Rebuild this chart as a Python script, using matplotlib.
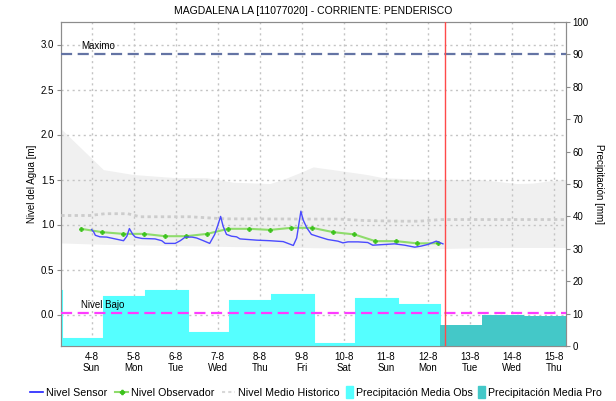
import matplotlib
matplotlib.use("Agg")
import matplotlib.pyplot as plt
import matplotlib.patches as mpatches
from matplotlib.lines import Line2D
from matplotlib.legend_handler import HandlerPatch
import matplotlib.transforms as mtransforms

plt.rcParams['font.family'] = ['Liberation Sans', 'DejaVu Sans']

# ---------------- data ----------------
title = "MAGDALENA LA [11077020] - CORRIENTE: PENDERISCO"
day_labels = ["4-8", "5-8", "6-8", "7-8", "8-8", "9-8", "10-8", "11-8", "12-8", "13-8", "14-8", "15-8"]
weekday_labels = ["Sun", "Mon", "Tue", "Wed", "Thu", "Fri", "Sat", "Sun", "Mon", "Tue", "Wed", "Thu"]

# time in days since 4-8 00:00
sensor_t = [0.00, 0.05, 0.09, 0.20, 0.36, 0.56, 0.76, 0.84, 0.90, 0.98, 1.04, 1.20, 1.51, 1.67,
            1.75, 1.99, 2.11, 2.23, 2.39, 2.50, 2.66, 2.81, 2.93, 3.01, 3.07, 3.13, 3.21, 3.33,
            3.45, 3.53, 3.93, 4.24, 4.56, 4.80, 4.88, 4.93, 4.98, 5.03, 5.12, 5.23, 5.43, 5.62,
            5.86, 5.98, 6.10, 6.34, 6.57, 6.69, 6.97, 7.21, 7.45, 7.69, 7.84, 8.00, 8.20, 8.36]
sensor_v = [0.944, 0.918, 0.880, 0.863, 0.860, 0.840, 0.820, 0.870, 0.955, 0.890, 0.860, 0.845,
            0.840, 0.820, 0.790, 0.790, 0.820, 0.860, 0.860, 0.850, 0.820, 0.790, 0.890, 1.000,
            1.090, 0.980, 0.890, 0.870, 0.863, 0.840, 0.826, 0.820, 0.810, 0.767, 0.850, 1.000,
            1.148, 1.055, 0.963, 0.890, 0.860, 0.833, 0.815, 0.796, 0.807, 0.807, 0.800, 0.770,
            0.778, 0.785, 0.770, 0.748, 0.760, 0.778, 0.815, 0.785]

obs_t = [-0.25, 0.25, 0.75, 1.25, 1.75, 2.25, 2.75, 3.25, 3.75, 4.25, 4.75, 5.25,
         5.75, 6.25, 6.75, 7.25, 7.75, 8.25]
obs_v = [0.952, 0.915, 0.896, 0.896, 0.870, 0.870, 0.896, 0.952, 0.952, 0.940, 0.963, 0.963,
         0.915, 0.890, 0.815, 0.815, 0.790, 0.792]

hist_t = [-0.72, -0.04, 0.32, 0.86, 1.15, 2.34, 3.17, 5.43, 5.90, 6.50, 7.34, 7.80, 8.29, 11.28]
hist_v = [1.100, 1.100, 1.120, 1.120, 1.086, 1.086, 1.063, 1.060, 1.060, 1.044, 1.037, 1.037, 1.055, 1.055]

band_t = [-0.72, 0.28, 0.98, 2.02, 2.74, 3.36, 4.24, 4.55, 5.03, 5.27, 5.74, 6.54, 6.93, 7.97,
          9.24, 10.11, 10.50, 10.98, 11.28]
band_hi = [2.06, 1.61, 1.556, 1.52, 1.52, 1.47, 1.455, 1.50, 1.59, 1.64, 1.61, 1.556, 1.52, 1.50,
           1.50, 1.455, 1.46, 1.49, 1.50]
band_lo = [0.795, 0.78, 0.775, 0.765, 0.76, 0.755, 0.75, 0.745, 0.745, 0.742, 0.74, 0.735, 0.733, 0.73,
           0.742, 0.745, 0.745, 0.745, 0.745]

# daily precipitation (mm); each bar ends at 07:00 of the given day index
precip_obs_day = [-1, 0, 1, 2, 3, 4, 5, 6, 7, 8]
precip_obs_mm = [17.0, 2.25, 15.2, 17.1, 4.1, 14.0, 15.7, 0.5, 14.5, 12.6]
precip_pro_day = [9, 10, 11]
precip_pro_mm = [6.4, 9.6, 9.3]

nivel_maximo = 2.90
nivel_bajo = 0.02
now_t = 8 + 10 / 24

# ---------------- style ----------------
X0, X1 = -0.72, 11.28
BAR_END = 7 / 24
C_SENSOR = "#4a4aff"
C_OBS_LINE = "#8fdc6c"
C_OBS_MARK = "#3cc21c"
C_HIST = "#cccccc"
C_BAND = "#f0f0f0"
C_OBS_BAR = "#55ffff"
C_PRO_BAR = "#44c8c8"
C_MAX = "#6474a4"
C_BAJO = "#ff3cff"
C_NOW = "#ff4a4a"
SPINE = "#8c8c8c"
FS = 7
LFS = 7.7

fig = plt.figure(figsize=(6.16, 4.01), dpi=100)
pos = [61.3 / 616, 1 - 346 / 401, (565.7 - 61.3) / 616, (346 - 22) / 401]
ax = fig.add_axes(pos)
ax2 = ax.twinx()
ax3 = fig.add_axes(pos, sharex=ax, sharey=ax)
ax3.patch.set_visible(False)
ax3.axis("off")

# background band + grid on ax
ax.fill_between(band_t, band_lo, band_hi, color=C_BAND, lw=0, zorder=0.5)
ax.set_xlim(X0, X1)
ax.set_ylim(-0.35, 3.25)
ax.set_yticks([0.0, 0.5, 1.0, 1.5, 2.0, 2.5, 3.0])
ax.set_yticklabels([f"{v:.1f}" for v in [0.0, 0.5, 1.0, 1.5, 2.0, 2.5, 3.0]])
ax.set_xticks(range(len(day_labels)))
ax.set_xticklabels([f"{d}\n{w}" for d, w in zip(day_labels, weekday_labels)])
ax.grid(True, color="#c4c4c4", ls=(0, (1.5, 2.5)), lw=1)
ax.tick_params(axis="x", length=0, labelsize=FS, pad=4)
ax.tick_params(axis="y", length=3, labelsize=FS, color=SPINE, pad=2)
ax.set_ylabel("Nivel del Agua [m]", fontsize=FS, labelpad=3)

# precipitation bars on ax2
ax2.bar([d - 1 + BAR_END for d in precip_obs_day], precip_obs_mm, width=1.0, align="edge",
        color=C_OBS_BAR, ec=C_OBS_BAR, lw=1.5)
ax2.bar([d - 1 + BAR_END for d in precip_pro_day], precip_pro_mm, width=1.0, align="edge",
        color=C_PRO_BAR, lw=0)
ax2.set_ylim(0, 100)
ax2.set_yticks(range(0, 101, 10))
ax2.tick_params(axis="y", length=3, labelsize=FS, color=SPINE, pad=2)
ax2.set_ylabel("Precipitación [mm]", fontsize=FS, rotation=-90, labelpad=11)

for a in (ax, ax2):
    for s in a.spines.values():
        s.set_color(SPINE)

# level lines on ax3 (on top)
ax3.plot(hist_t, hist_v, color=C_HIST, lw=2, ls=(0, (1.2, 1.2)))
ax3.axhline(nivel_maximo, color=C_MAX, lw=1.6, ls=(0, (5, 2.5)))
ax3.axhline(nivel_bajo, color=C_BAJO, lw=1.6, ls=(0, (5, 2.5)))
ax3.plot(obs_t, obs_v, color=C_OBS_LINE, lw=1.5, marker="P", ms=3,
         mfc=C_OBS_MARK, mec=C_OBS_MARK, mew=0.5)
ax3.plot(sensor_t, sensor_v, color=C_SENSOR, lw=1)
ax3.axvline(now_t, color=C_NOW, lw=1)
tr = mtransforms.blended_transform_factory(ax3.transAxes, ax3.transData)
ax3.text(0.04, nivel_maximo + 0.03, "Maximo", transform=tr, fontsize=FS, va="bottom")
ax3.text(0.04, nivel_bajo + 0.03, "Nivel Bajo", transform=tr, fontsize=FS, va="bottom")

ax.set_title(title, fontsize=7.5, pad=6)


def tall_patch(legend, orig_handle, xdescent, ydescent, width, height, fontsize):
    return mpatches.Rectangle((-xdescent, -ydescent - 0.3 * height), width, 1.6 * height)


line_handles = [
    Line2D([], [], color="#2020ff", lw=1.2),
    Line2D([], [], color=C_OBS_LINE, lw=1.5, marker="P", ms=3, mfc=C_OBS_MARK, mec=C_OBS_MARK),
    Line2D([], [], color="#d8d8d8", lw=1.5, ls=(0, (1.5, 1.5))),
]
line_labels = ["Nivel Sensor", "Nivel Observador", "Nivel Medio Historico"]
patch_handles = [mpatches.Patch(color=C_OBS_BAR), mpatches.Patch(color=C_PRO_BAR)]
patch_labels = ["Precipitación Media Obs", "Precipitación Media Pro"]

ly = 1 - 393 / 401
leg1 = fig.legend(line_handles, line_labels, loc="center left", bbox_to_anchor=(30 / 616, ly),
                  ncol=3, frameon=False, fontsize=LFS, handlelength=1.22, handletextpad=0.28,
                  columnspacing=0.72, borderpad=0, borderaxespad=0)
leg2 = fig.legend(patch_handles, patch_labels, loc="center left", bbox_to_anchor=(346 / 616, ly),
                  ncol=2, frameon=False, fontsize=LFS, handlelength=0.62, handletextpad=0.28,
                  columnspacing=0.56, borderpad=0, borderaxespad=0,
                  handler_map={mpatches.Patch: HandlerPatch(patch_func=tall_patch)})

fig.savefig("out.png", dpi=100)
